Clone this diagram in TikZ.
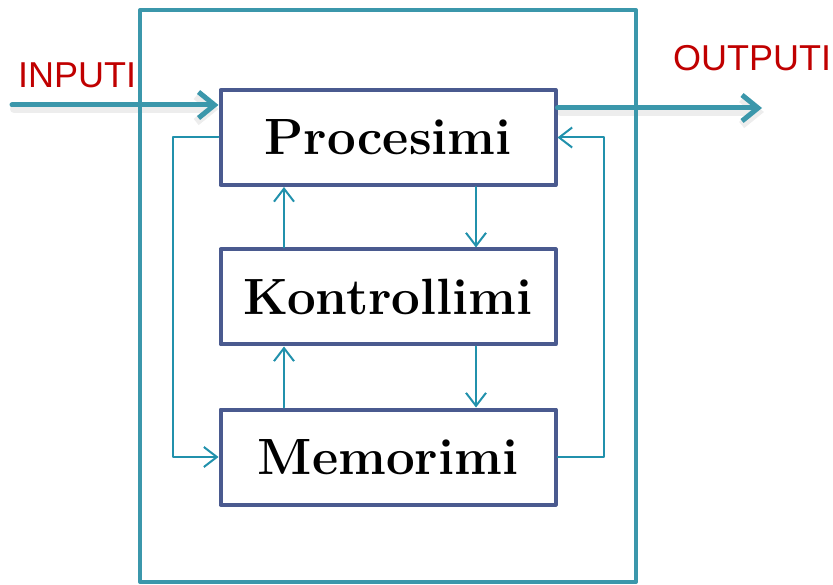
\documentclass[tikz,border=0pt]{standalone}
\usepackage{fontspec}
\newfontfamily\labelfont{Liberation Sans}
\usepackage{tikz}
\usetikzlibrary{arrows.meta}
\usetikzlibrary{backgrounds}
\definecolor{frameteal}{RGB}{59,151,171}
\definecolor{boxblue}{RGB}{74,90,143}
\definecolor{linkteal}{RGB}{33,145,172}
\definecolor{labelred}{RGB}{192,0,0}
\tikzset{
  unitbox/.style={draw=boxblue,line width=4pt,fill=white,minimum width=335pt,minimum height=95pt,inner sep=0pt,font=\fontsize{51}{53}\selectfont\bfseries},
  link/.style={draw=linkteal,line width=2pt,-{Straight Barb[length=13pt,width=20pt,line width=2pt]}},
  bigarrow/.style={draw=frameteal,line width=5pt,-{Straight Barb[length=16pt,width=26pt,line width=5pt]}},
  bigshadow/.style={draw=black!7,line width=8pt,line cap=round,-{Straight Barb[length=16pt,width=26pt,line width=8pt]}},
  iolabel/.style={text=labelred,font=\labelfont\fontsize{36}{38}\selectfont,inner sep=0pt,anchor=base west}
}
\begin{document}
\begin{tikzpicture}[line cap=round,line join=round,x=1pt,y=-1pt]
        \useasboundingbox (0,0) rectangle (833,585);
        % outer frame
        \draw[color=frameteal,line width=4pt] (140,10) rectangle (636,582);
        \node[unitbox] (proc) at (388,137.5) {Procesimi};
        \node[unitbox] (kont) at (388,297) {Kontrollimi};
        \node[unitbox] (memo) at (388,457) {Memorimi};
        \node[iolabel] (inlabel) at (18,88) {INPUTI};
        \node[iolabel] (outlabel) at (673,71) {OUTPUTI};
        \coordinate (instart) at (12,105);
        \coordinate (outend) at (762,108);
        % soft shadows of input / output
        \begin{pgfonlayer}{background}
        \draw[bigshadow] ([xshift=2pt,yshift=-4pt]instart) -- ([yshift=28.5pt]proc.west);
        \draw[bigshadow] ([xshift=3pt,yshift=25.5pt]proc.east) -- ([xshift=2pt,yshift=-4pt]outend);
        \end{pgfonlayer}
        % input / output
        \draw[bigarrow] (instart) -- ([yshift=32.5pt]proc.west);
        \draw[bigarrow] ([yshift=29.5pt]proc.east) -- (outend);
        % links between units
        \draw[link] ([xshift=-104pt]kont.north) -- ([xshift=-104pt]proc.south);
        \draw[link] ([xshift=88pt]proc.south) -- ([xshift=88pt]kont.north);
        \draw[link] ([xshift=-104pt]memo.north) -- ([xshift=-104pt]kont.south);
        \draw[link] ([xshift=88pt]kont.south) -- ([xshift=88pt]memo.north);
        \draw[link] (proc.west) -- ++(-46,0) |- (memo.west);
        \draw[link] (memo.east) -- ++(46,0) |- (proc.east);
\end{tikzpicture}
\end{document}
